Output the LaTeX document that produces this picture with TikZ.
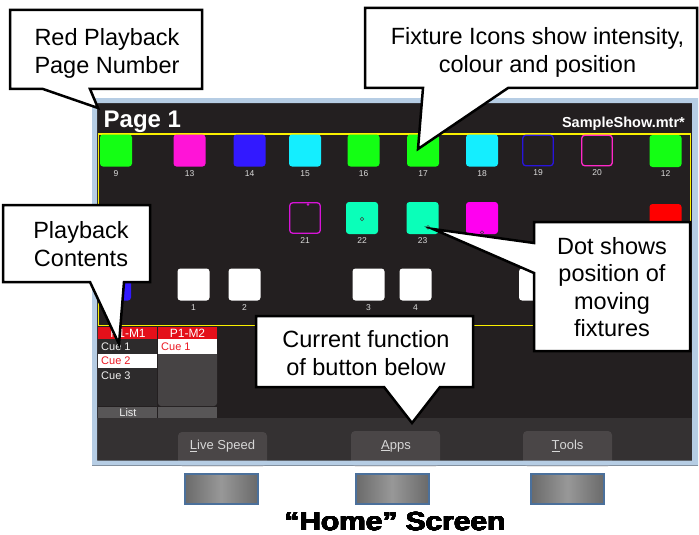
\documentclass[tikz,border=0pt]{standalone}
\usepackage{fontspec}
\usepackage{contour}
\setmainfont{Liberation Sans}
\contourlength{0.35pt}

% screen colours
\definecolor{scrbg}{RGB}{35,31,32}
\definecolor{barbg}{RGB}{52,49,50}
\definecolor{btnbg}{RGB}{74,70,71}
\definecolor{framecol}{RGB}{182,205,228}
\definecolor{gridyel}{RGB}{250,240,0}
% fixture colours
\definecolor{fxgreen}{RGB}{20,255,20}
\definecolor{fxmag}{RGB}{255,20,215}
\definecolor{fxblue}{RGB}{50,25,255}
\definecolor{fxcyan}{RGB}{20,238,255}
\definecolor{fxaqua}{RGB}{10,255,185}
\definecolor{fxpink}{RGB}{255,0,240}
\definecolor{fxred}{RGB}{255,0,0}
\definecolor{ringblue}{RGB}{40,20,220}
\definecolor{ringmag}{RGB}{255,40,200}
\definecolor{ringvio}{RGB}{215,20,215}
\definecolor{numcol}{RGB}{220,220,220}
% playback list colours
\definecolor{pbred}{RGB}{228,16,26}
\definecolor{col1bg}{RGB}{45,43,44}
\definecolor{col2bg}{RGB}{70,67,68}
\definecolor{listbg}{RGB}{88,86,87}
\definecolor{cuered}{RGB}{235,25,35}
\definecolor{cuewhite}{RGB}{240,240,240}
% hardware buttons
\definecolor{hbedge}{RGB}{75,112,155}
\definecolor{hbdark}{RGB}{106,106,106}
\definecolor{hblight}{RGB}{152,152,152}
\definecolor{btntext}{RGB}{215,215,215}

% one fixture icon with its number underneath
\newcommand\drawfix[5]{%
  \node[fixture,#4] (#1) at (#2,#3) {};
  \path (#1.south) ++(0,6.5) node[fixlabel] (#1-num) {#5};}

\begin{document}
\begin{tikzpicture}[x=1pt,y=-1pt,
  callout/.style={fill=white,draw=black,line width=2.5pt,line join=miter},
  calltext/.style={font=\fontsize{23.5}{28}\selectfont,align=center,inner sep=0},
  fixture/.style={minimum size=32pt,inner sep=0,rounded corners=3pt},
  filled/.style={fill=#1},
  ring/.style={draw=#1,line width=1.3pt,minimum size=30.5pt},
  fixlabel/.style={font=\fontsize{8.5}{9}\selectfont,text=numcol,inner sep=0},
  posdot/.style={circle,draw=black!75,line width=0.6pt,inner sep=0,minimum size=3.6pt},
  cuetext/.style={font=\fontsize{11}{12}\selectfont,inner sep=0,anchor=west},
  headtext/.style={font=\fontsize{12}{13}\selectfont,text=white,inner sep=0},
  softkey/.style={fill=btnbg,rounded corners=4pt},
  keytext/.style={font=\fontsize{13}{14}\selectfont,text=btntext,inner sep=0},
  hwbutton/.style={draw=hbedge,line width=2pt,minimum width=73pt,minimum height=30pt,
    left color=hbdark,right color=hbdark,middle color=hblight,inner sep=0},
]
\useasboundingbox (0,0) rectangle (699,535);
\fill[white] (0,0) rectangle (699,535);

% ---------- screen ----------
\fill[scrbg] (92,98) rectangle (698,466);
\fill[barbg] (97,418) rectangle (692,461);

\node[font=\fontsize{24}{26}\bfseries,text=white,inner sep=0,anchor=base west] (page) at (103.5,128) {Page 1};
\node[font=\fontsize{14.5}{16}\bfseries,text=white,inner sep=0,anchor=base east] (show) at (685,128) {SampleShow.mtr*};

\draw[gridyel,line width=1.5pt] (98.5,134) rectangle (690.5,325.5);

% top row of fixtures
\drawfix{f9}{116}{150.5}{filled=fxgreen}{9}
\drawfix{f13}{189.5}{150.5}{filled=fxmag}{13}
\drawfix{f14}{249.5}{150.5}{filled=fxblue}{14}
\drawfix{f15}{305}{150.5}{filled=fxcyan}{15}
\drawfix{f16}{363.5}{150.5}{filled=fxgreen}{16}
\drawfix{f17}{423}{150.5}{filled=fxgreen}{17}
\drawfix{f18}{482}{150.5}{filled=fxcyan}{18}
\drawfix{f19}{538}{150.5}{ring=ringblue}{19}
\drawfix{f20}{597}{150.5}{ring=ringmag}{20}
\drawfix{f12}{665.5}{151}{filled=fxgreen}{12}

% middle row of fixtures
\drawfix{f21}{305}{218}{ring=ringvio}{21}
\drawfix{f22}{362}{218}{filled=fxaqua}{22}
\drawfix{f23}{422.5}{218}{filled=fxaqua}{23}
\node[fixture,fill=fxpink] (f24) at (482,218) {};
\node[fixture,fill=fxred] (f25) at (665.5,220) {};
\node[circle,fill=ringvio,inner sep=0,minimum size=2.6pt] (d21) at (308,204.5) {};
\node[posdot] (d22) at (362,219) {};
\node[posdot] (d23) at (428,227.3) {};
\node[posdot] (d24) at (482,232.5) {};

% bottom row of fixtures
\node[fixture,fill=fxblue] (f5) at (115,284.5) {};
\drawfix{f1}{193.5}{284.5}{filled=white}{1}
\drawfix{f2}{244.5}{284.5}{filled=white}{2}
\drawfix{f3}{368.5}{284.5}{filled=white}{3}
\drawfix{f4}{415.5}{284.5}{filled=white}{4}
\node[fixture,fill=white] (f6) at (535,284.5) {};

% playback lists
\fill[pbred] (98,327) rectangle (157,339);
\fill[pbred] (158,327) rectangle (217,339);
\fill[col1bg] (98,339) rectangle (157,406);
\fill[white] (98,353.5) rectangle (157,368);
\fill[col2bg,rounded corners=3pt] (158,345) rectangle (217,406);
\fill[white] (158,339) rectangle (217,353.5);
\fill[listbg] (98,407) rectangle (157,418);
\fill[listbg] (158,407) rectangle (217,418);
\node[headtext] (pb1) at (128,333.5) {P1-M1};
\node[headtext] (pb2) at (187.5,333.5) {P1-M2};
\node[cuetext,text=cuewhite] (c11) at (101,346.5) {Cue 1};
\node[cuetext,text=cuered] (c12) at (101,361) {Cue 2};
\node[cuetext,text=cuewhite] (c13) at (101,375.5) {Cue 3};
\node[cuetext,text=cuered] (c21) at (161,346.5) {Cue 1};
\node[cuetext,anchor=center,text=cuewhite] (lst) at (128,412.5) {List};

% soft keys along the bottom of the screen
\fill[softkey] (178,466) rectangle (267,432);
\fill[softkey] (351,466) rectangle (440,431);
\fill[softkey] (523,466) rectangle (612,431);
\node[keytext] (k1) at (222.5,446) {\underline{L}ive Speed};
\node[keytext] (k2) at (396,446) {\underline{A}pps};
\node[keytext] (k3) at (567.5,446) {\underline{T}ools};

% screen frame
\fill[framecol,even odd rule] (92,98) rectangle (698,465.5) (97,103) rectangle (692,460.5);

% ---------- callouts ----------
\draw[callout] (10,10) -- (202,10) -- (202,89) -- (90,89) -- (98,108) -- (43,89) -- (10,89) -- cycle;
\node[calltext] (t1) at (107,53) {Red Playback\\Page Number};

\draw[callout] (365,8) -- (697,8) -- (697,88) -- (508,88) -- (418,149) -- (423,88) -- (365,88) -- cycle;
\node[calltext] (t2) at (537.5,52) {Fixture Icons show intensity,\\colour and position};

\draw[callout] (3,205) -- (150,205) -- (150,282) -- (124,282) -- (119,344) -- (90,282) -- (3,282) -- cycle;
\node[calltext] (t3) at (81,244) {Playback\\Contents};

\draw[callout] (534,222) -- (690,222) -- (690,351) -- (534,351) -- (534,273) -- (433,229) -- (534,243) -- cycle;
\node[calltext,font=\fontsize{23.5}{27.4}\selectfont] (t4) at (612,287) {Dot shows\\position of\\moving\\fixtures};

\draw[callout] (256,316) -- (473,316) -- (473,387) -- (440,387) -- (412,423) -- (384,387) -- (256,387) -- cycle;
\node[calltext] (t5) at (366,353) {Current function\\of button below};

% ---------- hardware buttons and caption ----------
\node[hwbutton] (hb1) at (221,488.5) {};
\node[hwbutton] (hb2) at (392,488.5) {};
\node[hwbutton] (hb3) at (567.5,488.5) {};
\node[font=\fontsize{26}{30}\bfseries,inner sep=0,anchor=base] (title) at (395,530.5) {\scalebox{1.15}[1]{\contour{black}{“Home” Screen}}};
\end{tikzpicture}
\end{document}
